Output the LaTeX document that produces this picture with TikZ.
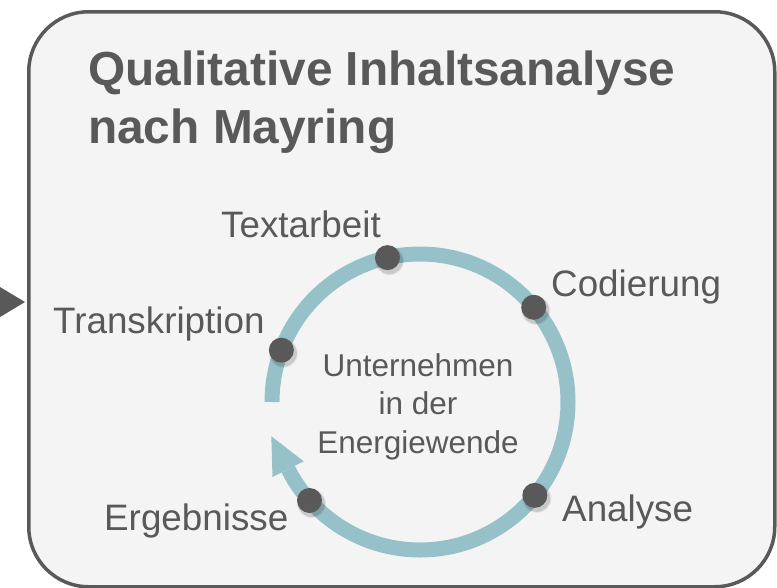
\documentclass[tikz,border=0pt]{standalone}
\usepackage{fontspec}
\setmainfont{Liberation Sans}
\usetikzlibrary{calc}
\definecolor{txt}{HTML}{595959}
\definecolor{ringc}{HTML}{97C1C9}
\definecolor{boxfill}{HTML}{F4F4F4}
\begin{document}
\begin{tikzpicture}[x=1pt,y=-1pt,
  lbl/.style={font=\fontsize{36.8}{44}\selectfont, text=txt, inner sep=0pt, anchor=base west},
  dotnode/.style={circle, fill=txt, minimum size=25pt, inner sep=0pt},
  shadowdot/.style={circle, fill=black, opacity=0.12, minimum size=27pt, inner sep=0pt},
  ringline/.style={draw=ringc, line width=15pt},
  titlefont/.style={font=\fontsize{47.8}{58}\selectfont\bfseries, text=txt, anchor=base west, inner sep=0pt},
]
\useasboundingbox (0,0) rectangle (777,587);
\node[draw=txt, line width=3.5pt, fill=boxfill, rounded corners=60pt,
      minimum width=746pt, minimum height=575pt, inner sep=0pt, anchor=north west] (box) at (27,10) {};
% incoming arrowhead at the left
\fill[txt] (0,287) -- (25,302) -- (0,317) -- cycle;
% titles
\node[titlefont] (t1) at (88,85) {Qualitative Inhaltsanalyse};
\node[titlefont] (t2) at (88,143) {nach Mayring};
% ring
\coordinate (c) at (420,402);
\draw[ringline] (c) ++(180:148) arc[start angle=180, end angle=513, radius=148];
\fill[ringc] (272.5,477.1) -- (271.3,436.2) -- (303.7,461.3) -- cycle;
% dots
\foreach \a/\n in {257.3/dtext, 320.2/dcod, 200.5/dtrans, 39.1/dana, 138.3/derg}{
  \node[shadowdot] at ($(c)+(\a:148)+(2,3)$) {};
  \node[shadowdot, minimum size=29pt, opacity=0.06] at ($(c)+(\a:148)+(2,3)$) {};
  \node[dotnode] (\n) at ($(c)+(\a:148)$) {};
}
% labels
\node[lbl] (ltext) at (221,237) {Textarbeit};
\node[lbl] (lcod) at (551,296) {Codierung};
\node[lbl] (ltrans) at (53,333) {Transkription};
\node[lbl] (lana) at (562,521) {Analyse};
\node[lbl] (lerg) at (104,530) {Ergebnisse};
% centre text
\node[font=\fontsize{31.5}{38.5}\selectfont, text=txt, align=center, inner sep=0pt, anchor=north] (ctext) at (418,353) {Unternehmen\\in der\\Energiewende};
\end{tikzpicture}
\end{document}
